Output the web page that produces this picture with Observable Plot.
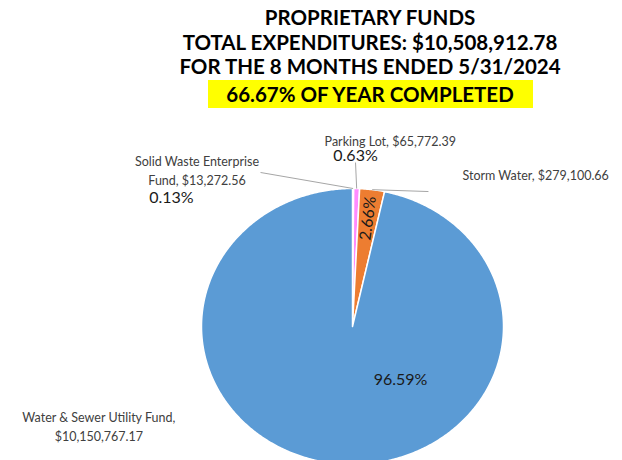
<!DOCTYPE html>
<html>
<head>
<meta charset="utf-8">
<script src="https://cdn.jsdelivr.net/npm/d3@7"></script>
<script src="https://cdn.jsdelivr.net/npm/@observablehq/plot@0.6"></script>
<style>
  html, body { margin: 0; padding: 0; background: #fff; }
  #title { height: 112px; box-sizing: border-box; padding-left: 118px; padding-top: 5px;
    text-align: center; font-family: Lato, sans-serif; font-weight: 700; font-size: 20.5px;
    line-height: 24.5px; color: #000; }
  #title .hl { display: inline-block; background: #FFFF00; width: 325px; height: 28px; line-height: 28px; margin-top: 1px; }
  #chart svg { display: block; }
</style>
</head>
<body>
<div id="title"></div>
<div id="chart"></div>
<script>
// ---- data ----
const titleLines = ["PROPRIETARY FUNDS", "TOTAL EXPENDITURES: $10,508,912.78", "FOR THE 8 MONTHS ENDED 5/31/2024"];
const highlightLine = "66.67% OF YEAR COMPLETED";
const categories = ["Solid Waste Enterprise\nFund", "Parking Lot", "Storm Water", "Water & Sewer Utility Fund,\n"];
const amounts = [13272.56, 65772.39, 279100.66, 10150767.17];
const amountLabels = ["$13,272.56", "$65,772.39", "$279,100.66", "$10,150,767.17"];
const percentLabels = ["0.13%", "0.63%", "2.66%", "96.59%"];
const colors = ["#F4F4F4", "#FF8BFF", "#ED7D31", "#5B9BD5"];

// ---- layout (unit-circle coordinates) ----
const nameAt = [[-1.03, 1.138], [0.25, 1.348], [0.728, 1.087], [-1.68, -0.717]];
const nameAnchor = ["middle", "middle", "start", "middle"];
const pctAt = [[-1.199, 0.935], [0.02, 1.239], null, [0.318, -0.384]];
const leaderFrom = [[-0.609, 1.116], [0.02, 1.188], [0.503, 0.978], null];

// title
const t = document.getElementById("title");
titleLines.forEach(s => { const d = document.createElement("div"); d.textContent = s; t.appendChild(d); });
const hl = document.createElement("div"); const sp = document.createElement("span");
sp.className = "hl"; sp.textContent = highlightLine; hl.appendChild(sp); t.appendChild(hl);

// pie geometry
const arcs = d3.pie().sort(null).value(d => d)(amounts);
const slicePts = [];
arcs.forEach((a, i) => {
  slicePts.push({i, x: 0, y: 0});
  const n = Math.max(2, Math.ceil((a.endAngle - a.startAngle) / 0.01));
  for (let k = 0; k <= n; k++) {
    const ang = a.startAngle + (a.endAngle - a.startAngle) * k / n;
    slicePts.push({i, x: Math.sin(ang), y: Math.cos(ang)});
  }
  slicePts.push({i, x: 0, y: 0});
});
const mid = arcs.map(a => (a.startAngle + a.endAngle) / 2);

const names = categories.map((c, i) => ({
  x: nameAt[i][0], y: nameAt[i][1], anchor: nameAnchor[i],
  text: c.endsWith("\n") ? c + amountLabels[i] : c + ", " + amountLabels[i]
}));
const pcts = percentLabels.map((p, i) => {
  if (pctAt[i]) return {x: pctAt[i][0], y: pctAt[i][1], text: p, rot: 0};
  return {x: 0.79 * Math.sin(mid[i]), y: 0.79 * Math.cos(mid[i]), text: p, rot: mid[i] * 180 / Math.PI - 90};
});
const leaders = [];
leaderFrom.forEach((f, i) => {
  if (!f) return;
  leaders.push({x1: f[0], y1: f[1], x2: Math.sin(mid[i]), y2: Math.cos(mid[i])});
});

const W = 622, H = 348, cx = 352, cy = 214, rx = 151, ry = 138;
const plot = Plot.plot({
  width: W, height: H, margin: 0,
  x: {domain: [-cx / rx, (W - cx) / rx], axis: null},
  y: {domain: [-(H - cy) / ry, cy / ry], axis: null},
  style: {fontFamily: "Lato, sans-serif", background: "#fff", overflow: "visible"},
  marks: [
    Plot.line(slicePts, {x: "x", y: "y", z: "i", fill: d => colors[d.i], stroke: "#fff", strokeWidth: 1.5, curve: "linear"}),
    Plot.link(leaders, {x1: "x1", y1: "y1", x2: "x2", y2: "y2", stroke: "#A6A6A6", strokeWidth: 1}),
    Plot.text(names.filter(d => d.anchor === "middle"), {x: "x", y: "y", text: "text", textAnchor: "middle", fill: "#404040", fontSize: 12.5, lineHeight: 1.5}),
    Plot.text(names.filter(d => d.anchor === "start"), {x: "x", y: "y", text: "text", textAnchor: "start", fill: "#404040", fontSize: 12.5}),
    Plot.text(pcts, {x: "x", y: "y", text: "text", rotate: "rot", fill: "#1a1a1a", fontSize: 16})
  ]
});
document.getElementById("chart").appendChild(plot);
</script>
</body>
</html>
